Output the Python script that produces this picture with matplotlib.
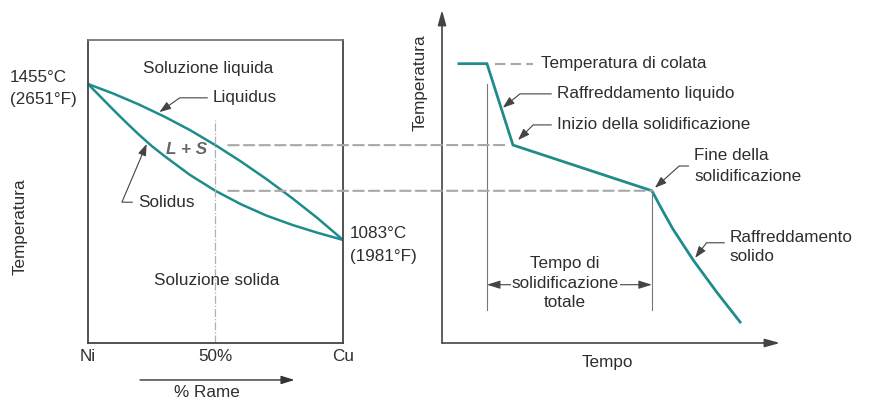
import matplotlib
matplotlib.use("Agg")
import matplotlib.pyplot as plt
from matplotlib.patches import ConnectionPatch

plt.rcParams['font.family'] = ['Liberation Sans', 'DejaVu Sans']

# diagramma di fase Ni-Cu (composizione % Cu, temperatura °C)
liq_comp = [0, 10, 20, 30, 40, 50, 60, 70, 80, 90, 100]
liq_temp = [1455, 1432, 1406, 1377, 1345, 1309, 1270, 1228, 1183, 1135, 1083]
sol_comp = [0, 5, 10, 15, 20, 25, 30, 40, 50, 60, 70, 80, 90, 100]
sol_temp = [1455, 1424, 1393, 1363, 1334, 1307, 1283, 1238, 1200, 1168, 1141, 1119, 1100, 1083]

# curva di raffreddamento (tempo, temperatura)
t_curve = [0.5, 1.33, 2.1, 6.21, 6.51, 6.83, 7.43, 8.14, 8.82]
T_curve = [1503, 1503, 1309, 1200, 1155, 1109, 1035, 957, 887]

T_colata = 1503
T_liq = 1309
T_sol = 1200
comp_lega = 50
t_inizio = 1.33
t_fine = 6.21

teal = '#1f8c8c'
txt = '#2e2e2e'
grey = '#a8a8a8'
fs = 12.3

fig = plt.figure(figsize=(8.7, 4.03), dpi=100)
ax1 = fig.add_axes([88/870, 60/403, 255/870, 303/403])
ax2 = fig.add_axes([442/870, 60/403, 338/870, 333/403])

# ---- pannello sinistro
ax1.set_xlim(0, 100)
ax1.set_ylim(837, 1560)
for s in ax1.spines.values():
    s.set_color('#444444')
    s.set_linewidth(1.3)
ax1.spines['top'].set_color('#777777')
ax1.set_yticks([])
ax1.set_xticks([0, 50, 100], ['Ni', '50%', 'Cu'])
ax1.tick_params(axis='x', length=0, pad=4, labelsize=fs, labelcolor=txt)

ax1.plot(liq_comp, liq_temp, color=teal, lw=1.8)
ax1.plot(sol_comp, sol_temp, color=teal, lw=1.8)
ax1.plot([comp_lega, comp_lega], [837, 1369], color='#b0b0b0', lw=0.9, ls='-.')

arr = dict(arrowstyle='-|>,head_length=0.7,head_width=0.25', color='#444444', lw=0.8,
           mutation_scale=10, shrinkA=2, shrinkB=0, relpos=(0, 0.5))

ax1.text(47, 1493, 'Soluzione liquida', ha='center', va='center', fontsize=fs, color=txt)
ax1.annotate('Liquidus', xy=(28, 1388), xytext=(49, 1422), ha='left', va='center', fontsize=fs,
             color=txt, arrowprops=dict(arr, connectionstyle='angle,angleA=0,angleB=35,rad=0'))
ax1.annotate('Solidus', xy=(23, 1312), xytext=(19.6, 1173), ha='left', va='center', fontsize=fs,
             color=txt, arrowprops=dict(arr, connectionstyle='angle,angleA=0,angleB=67,rad=0'))
ax1.text(38.8, 1298, 'L + S', ha='center', va='center', fontsize=fs, color='#666666',
         style='italic', weight='bold')
ax1.text(50.6, 985, 'Soluzione solida', ha='center', va='center', fontsize=fs, color=txt)
ax1.text(-30.5, 1445, '1455°C\n(2651°F)', ha='left', va='center', fontsize=fs, color=txt,
         linespacing=1.6, clip_on=False)
ax1.text(102.7, 1071, '1083°C\n(1981°F)', ha='left', va='center', fontsize=fs, color=txt,
         linespacing=1.6, clip_on=False)
ax1.text(-26.7, 1114, 'Temperatura', rotation=90, ha='center', va='center', fontsize=fs,
         color=txt, clip_on=False)
ax1.annotate('', xy=(81, -0.122), xytext=(20.4, -0.122), xycoords=('data', 'axes fraction'),
             arrowprops=dict(arrowstyle='-|>,head_length=0.8,head_width=0.25', color='#333333',
                             lw=1.0, mutation_scale=10, shrinkA=0, shrinkB=0))
ax1.text(46.7, -0.165, '% Rame', transform=ax1.get_xaxis_transform(), ha='center',
         va='center', fontsize=fs, color=txt)

# ---- pannello destro
ax2.set_xlim(0, 10)
ax2.set_ylim(837, 1631)
ax2.axis('off')
ax2.annotate('', xy=(0, 1), xytext=(0, 0), xycoords='axes fraction',
             arrowprops=dict(arrowstyle='-|>,head_length=0.9,head_width=0.25', color='#444444',
                             lw=1.2, mutation_scale=10, shrinkA=0, shrinkB=0))
ax2.annotate('', xy=(1, 0), xytext=(0, 0), xycoords='axes fraction',
             arrowprops=dict(arrowstyle='-|>,head_length=0.9,head_width=0.25', color='#444444',
                             lw=1.2, mutation_scale=10, shrinkA=0, shrinkB=0))

ax2.plot(t_curve, T_curve, color=teal, lw=2.0, solid_joinstyle='miter')
ax2.plot([t_inizio, t_inizio], [916, 1455], color='#777777', lw=0.8)
ax2.plot([t_fine, t_fine], [916, T_sol], color='#777777', lw=0.8)
ax2.plot([1.57, 2.69], [T_colata, T_colata], color=grey, lw=1.5, ls=(0, (5, 2.5)))

for T_h, t_h in [(T_liq, 1.95), (T_sol, t_fine)]:
    con = ConnectionPatch(xyA=(comp_lega + 5, T_h), coordsA=ax1.transData,
                          xyB=(t_h, T_h), coordsB=ax2.transData,
                          color=grey, lw=1.5, ls=(0, (5, 2.5)))
    fig.add_artist(con)

ax2.text(2.93, T_colata, 'Temperatura di colata', ha='left', va='center', fontsize=fs, color=txt)
ax2.annotate('Raffreddamento liquido', xy=(1.80, 1398), xytext=(3.40, 1431), ha='left',
             va='center', fontsize=fs, color=txt,
             arrowprops=dict(arr, connectionstyle='angle,angleA=0,angleB=39,rad=0'))
ax2.annotate('Inizio della solidificazione', xy=(2.25, 1321), xytext=(3.40, 1357), ha='left',
             va='center', fontsize=fs, color=txt,
             arrowprops=dict(arr, connectionstyle='angle,angleA=0,angleB=45,rad=0'))
ax2.annotate('Fine della\nsolidificazione', xy=(6.30, 1207), xytext=(7.46, 1259), ha='left',
             va='center', fontsize=fs, color=txt, linespacing=1.5,
             arrowprops=dict(arr, connectionstyle='angle,angleA=0,angleB=42,rad=0'))
ax2.annotate('Raffreddamento\nsolido', xy=(7.49, 1040), xytext=(8.52, 1066), ha='left',
             va='center', fontsize=fs, color=txt, linespacing=1.4,
             arrowprops=dict(arr, relpos=(0, 0.62),
                             connectionstyle='angle,angleA=0,angleB=53,rad=0'))

ax2.annotate('', xy=(t_fine, 976), xytext=(t_inizio, 976),
             arrowprops=dict(arrowstyle='<|-|>,head_length=0.8,head_width=0.25',
                             color='#444444', lw=0.8, mutation_scale=10, shrinkA=0, shrinkB=0))
ax2.text(3.64, 980, 'Tempo di\nsolidificazione\ntotale', ha='center', va='center', fontsize=fs,
         color=txt, linespacing=1.4,
         bbox=dict(boxstyle='square,pad=0.05', fc='white', ec='none'))

ax2.text(-0.65, 1457, 'Temperatura', rotation=90, ha='center', va='center', fontsize=fs,
         color=txt, clip_on=False)
ax2.text(4.88, -0.06, 'Tempo', transform=ax2.get_xaxis_transform(), ha='center', va='center',
         fontsize=fs, color=txt)

fig.savefig('out.png', dpi=100)
